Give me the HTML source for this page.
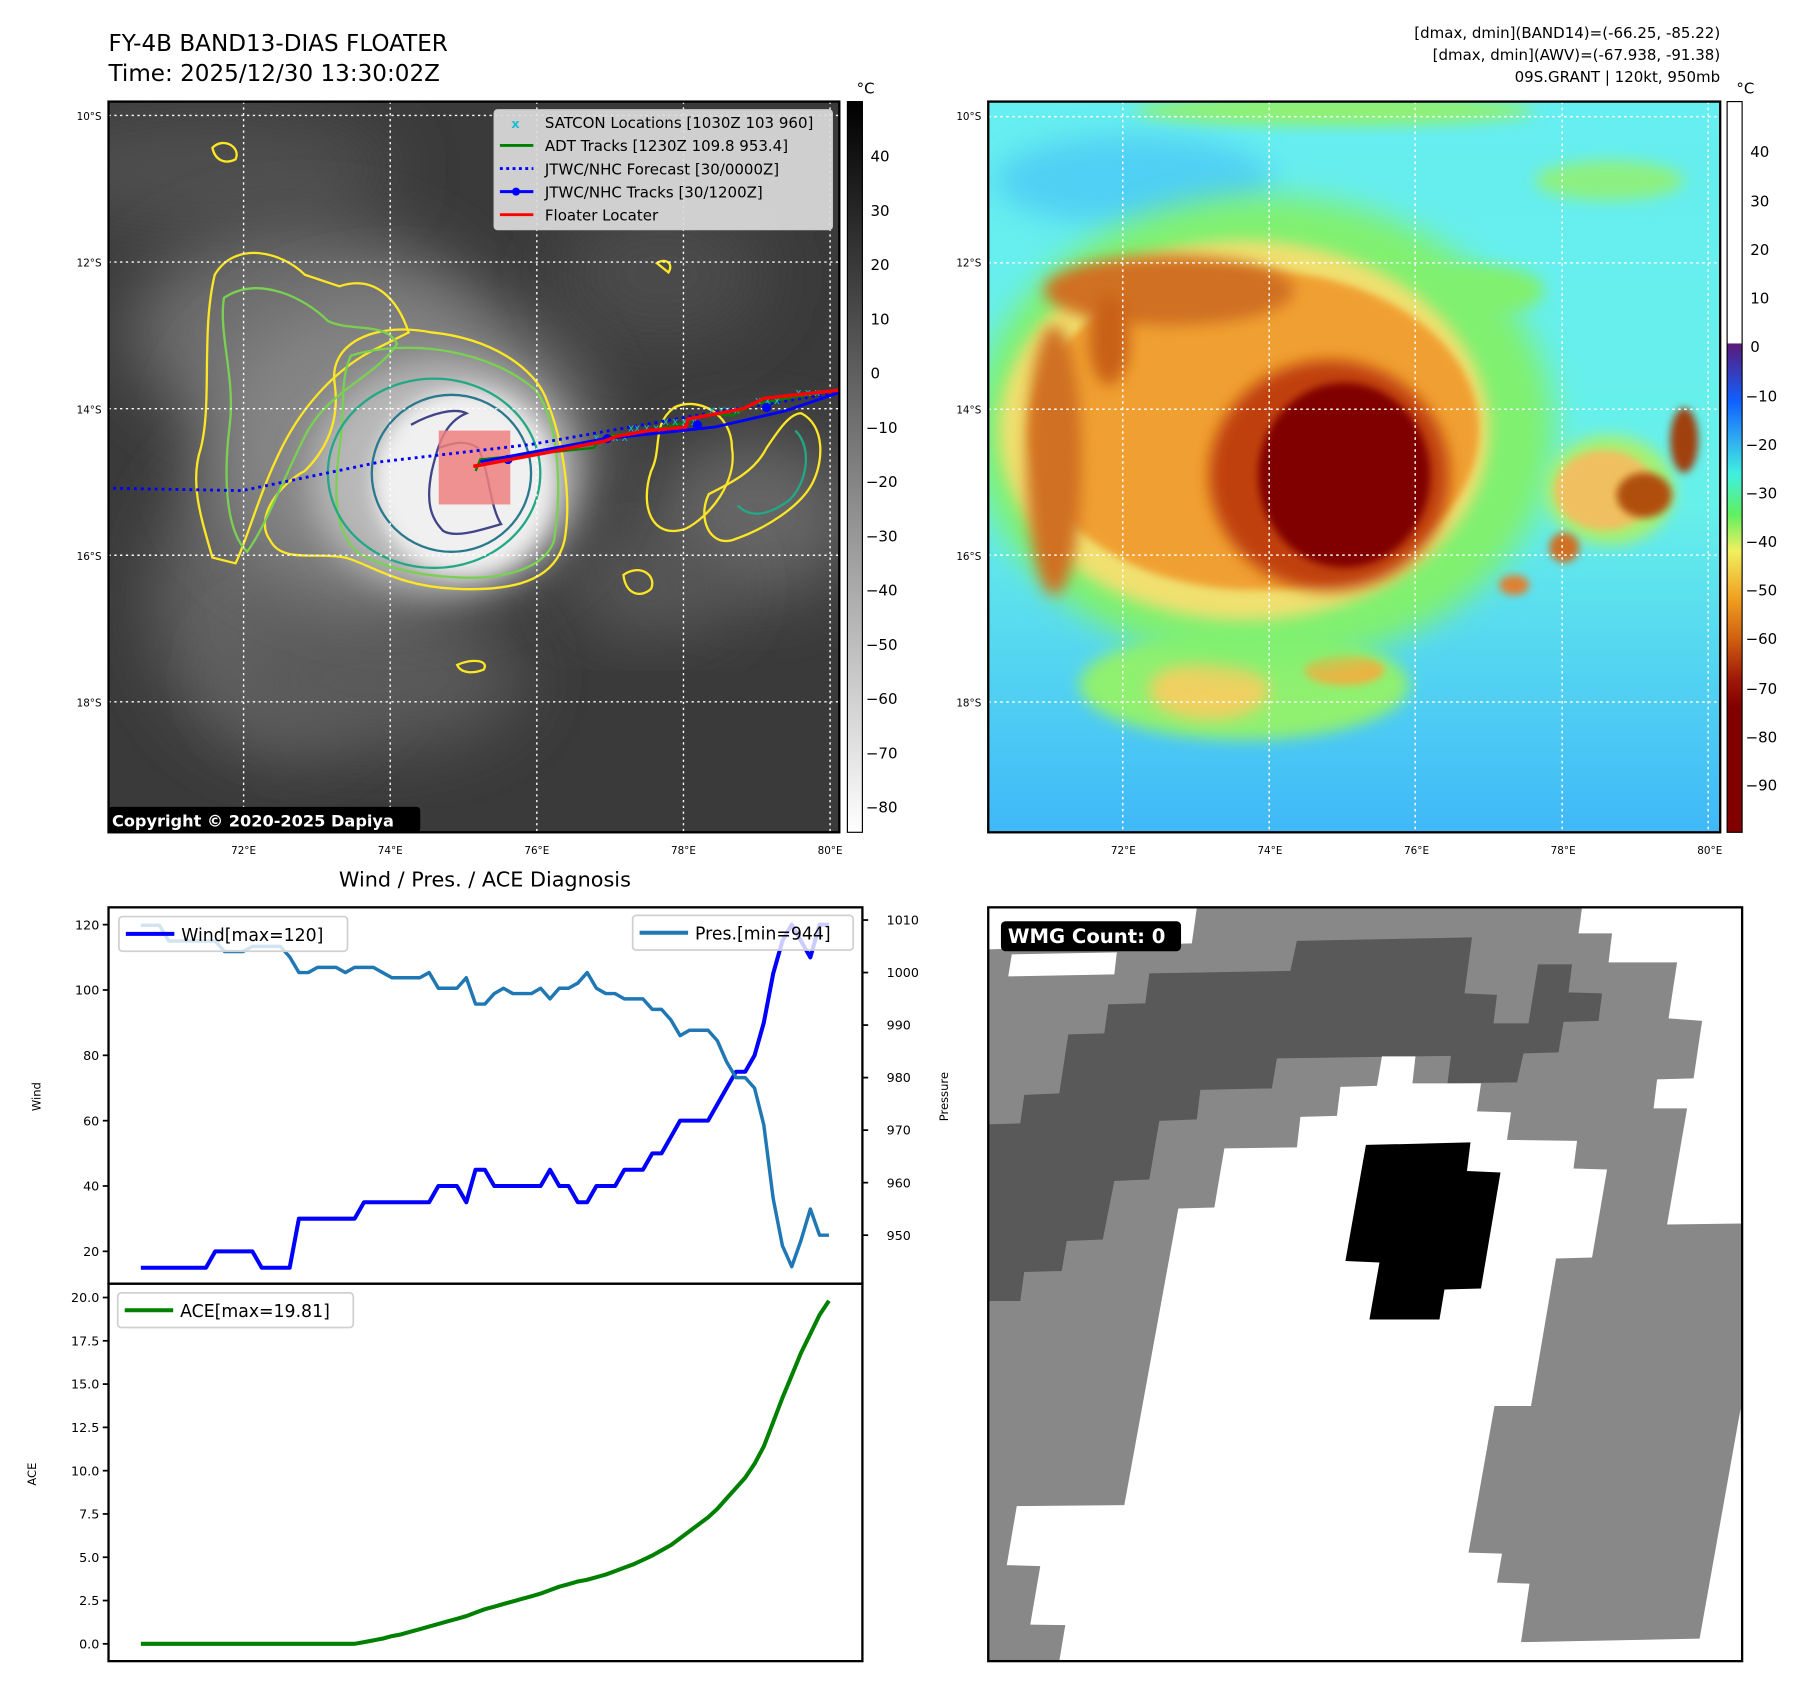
<!DOCTYPE html>
<html><head><meta charset="utf-8">
<style>
html,body{margin:0;padding:0;background:#fff;width:1801px;height:1690px;overflow:hidden}
svg text{font-family:"DejaVu Sans","Liberation Sans",sans-serif}
</style></head>
<body>
<svg id="page" width="1801" height="1690" viewBox="0 0 1560 1464" preserveAspectRatio="none" xmlns="http://www.w3.org/2000/svg">
<defs>
<filter id="b8" x="-30%" y="-30%" width="160%" height="160%"><feGaussianBlur stdDeviation="8"/></filter>
<filter id="b15" x="-30%" y="-30%" width="160%" height="160%"><feGaussianBlur stdDeviation="15"/></filter>
<filter id="b30" x="-40%" y="-40%" width="180%" height="180%"><feGaussianBlur stdDeviation="30"/></filter>
<linearGradient id="grayBar" x1="0" y1="0" x2="0" y2="1"><stop offset="0" stop-color="#000"/><stop offset="1" stop-color="#fff"/></linearGradient>
<linearGradient id="jetBar" x1="0" y1="0" x2="0" y2="1">
<stop offset="0" stop-color="#fff"/><stop offset="0.33" stop-color="#fff"/><stop offset="0.332" stop-color="#5a1a7a"/>
<stop offset="0.41" stop-color="#1060ff"/><stop offset="0.465" stop-color="#30b0f0"/><stop offset="0.51" stop-color="#40f0e0"/>
<stop offset="0.565" stop-color="#60f060"/><stop offset="0.615" stop-color="#f0f060"/><stop offset="0.68" stop-color="#f0a020"/>
<stop offset="0.735" stop-color="#d06010"/><stop offset="0.79" stop-color="#a01808"/><stop offset="0.83" stop-color="#800000"/><stop offset="1" stop-color="#800000"/>
</linearGradient>
<linearGradient id="seaBg" x1="0" y1="0" x2="0" y2="1"><stop offset="0" stop-color="#66eef0"/><stop offset="0.55" stop-color="#66f0ea"/><stop offset="1" stop-color="#40b8f8"/></linearGradient>
</defs>

<text x="94" y="44" font-size="20">FY-4B BAND13-DIAS FLOATER</text>
<text x="94" y="70" font-size="20">Time: 2025/12/30 13:30:02Z</text>
<g font-size="13" text-anchor="end">
<text x="1490" y="33">[dmax, dmin](BAND14)=(-66.25, -85.22)</text>
<text x="1490" y="52">[dmax, dmin](AWV)=(-67.938, -91.38)</text>
<text x="1490" y="71">09S.GRANT | 120kt, 950mb</text>
</g>

<svg x="94" y="88" width="633" height="633" viewBox="0 0 633 633">
<rect width="633" height="633" fill="#3a3a3a"/>
<ellipse cx="90" cy="60" rx="160" ry="50" fill="#505050" filter="url(#b30)"/>
<ellipse cx="480" cy="150" rx="90" ry="60" fill="#4c4c4c" filter="url(#b30)"/>
<ellipse cx="170" cy="200" rx="150" ry="90" fill="#6e6e6e" filter="url(#b30)"/>
<ellipse cx="150" cy="430" rx="110" ry="130" fill="#636363" filter="url(#b30)"/>
<ellipse cx="230" cy="500" rx="130" ry="60" fill="#5a5a5a" filter="url(#b30)"/>
<ellipse cx="560" cy="360" rx="90" ry="70" fill="#666" filter="url(#b30)"/>
<ellipse cx="470" cy="420" rx="70" ry="40" fill="#5a5a5a" filter="url(#b30)"/>
<ellipse cx="250" cy="300" rx="170" ry="130" fill="#858585" filter="url(#b30)"/>
<ellipse cx="290" cy="325" rx="115" ry="100" fill="#b8b8b8" filter="url(#b15)"/>
<ellipse cx="308" cy="330" rx="78" ry="80" fill="#f0f0f0" filter="url(#b8)"/>
<g fill="none" stroke-width="2">
<path d="M196 245 C190 210 230 190 280 200 C330 205 370 230 380 260 C392 290 402 340 395 380 C388 410 360 425 300 422 C250 420 225 400 205 395 C180 390 150 400 140 380 C125 360 150 330 170 320 C190 300 200 275 196 245Z" stroke="#fde725"/>
<path d="M92 150 C110 120 150 130 170 150 L200 160 C230 150 250 170 260 200 L230 215 C200 230 170 260 150 300 C130 340 120 380 110 400 L90 395 C80 360 70 330 80 300 C90 260 80 200 92 150Z" stroke="#fde725"/>
<path d="M100 170 C130 150 170 170 190 190 C210 200 240 190 250 210 C230 240 190 250 170 290 C150 330 135 370 120 390 C100 370 100 320 105 280 C110 240 95 200 100 170Z" stroke="#7ad151"/>
<path d="M210 220 C260 205 330 215 370 250 C392 280 392 340 386 380 C378 405 340 415 300 412 C260 410 230 400 215 390 C195 370 195 340 200 300 C205 270 200 240 210 220Z" stroke="#7ad151"/>
<ellipse cx="282" cy="322" rx="92" ry="82" stroke="#22a884"/>
<ellipse cx="297" cy="322" rx="69" ry="68" stroke="#2a788e"/>
<path d="M262 280 C280 270 300 265 310 270 C290 278 285 300 280 320 C275 345 278 360 290 372 C300 378 320 372 340 366 C330 350 330 320 320 300 C305 290 290 300 285 300" stroke="#414487"/>
<path d="M490 265 C510 255 540 270 540 300 C545 330 520 360 500 370 C470 380 460 350 470 320 C480 300 470 280 490 265Z" stroke="#fde725"/>
<path d="M600 270 C620 280 620 310 610 330 C600 350 570 370 540 380 C520 385 510 360 520 340 C540 330 560 320 570 300 C580 285 590 270 600 270Z" stroke="#fde725"/>
<path d="M595 285 C610 300 605 330 590 345 C570 360 555 360 545 350" stroke="#22a884"/>
<path d="M446 410 C460 400 475 410 470 422 C462 430 448 428 446 410Z" stroke="#fde725"/>
<path d="M302 488 C315 482 330 484 325 492 C315 496 305 495 302 488Z" stroke="#fde725"/>
<path d="M90 40 C100 30 115 40 110 50 C100 55 92 50 90 40Z M475 140 C482 135 490 140 485 148Z" stroke="#fde725"/>
</g>
<g stroke="#fff" stroke-width="1.2" stroke-dasharray="2,3">
<line x1="117" y1="0" x2="117" y2="633"/><line x1="244" y1="0" x2="244" y2="633"/><line x1="371" y1="0" x2="371" y2="633"/><line x1="498" y1="0" x2="498" y2="633"/><line x1="625" y1="0" x2="625" y2="633"/>
<line x1="0" y1="12" x2="633" y2="12"/><line x1="0" y1="139" x2="633" y2="139"/><line x1="0" y1="266" x2="633" y2="266"/><line x1="0" y1="393" x2="633" y2="393"/><line x1="0" y1="520" x2="633" y2="520"/>
</g>
<rect x="286" y="285" width="62" height="64" fill="#f08080" opacity="0.85"/>
<polyline points="4,335 116,337 236,312 366,297 520,270 633,252" fill="none" stroke="#0000ff" stroke-width="2.5" stroke-dasharray="2.5,3.5"/>
<polyline points="318,320 322,310 420,300 430,290 470,285 500,278 520,270 540,272 560,262 600,255 633,250" fill="none" stroke="#008000" stroke-width="2"/>
<g fill="#17becf" font-size="9">
<text x="420" y="294">x x x x</text><text x="450" y="286">xx x x</text><text x="480" y="280">x x x x</text><text x="520" y="270">x xx x</text><text x="560" y="262">x x x</text><text x="595" y="255">x x x</text>
</g>
<polyline points="322,312 430,292 525,282 586,268 633,252" fill="none" stroke="#0000ff" stroke-width="2.5"/>
<g fill="#0000ff"><circle cx="346" cy="310" r="4"/><circle cx="432" cy="292" r="4"/><circle cx="510" cy="280" r="4"/><circle cx="570" cy="265" r="4"/></g>
<polyline points="316,316 380,304 430,294 440,290 468,285 500,282 502,275 550,266 568,257 633,250" fill="none" stroke="#ff0000" stroke-width="3"/>
</svg>
<rect x="94" y="88" width="633" height="633" fill="none" stroke="#000" stroke-width="2"/>
<g>
<rect x="428" y="95" width="293" height="104" rx="3" fill="#dcdcdc" fill-opacity="0.92" stroke="#ccc"/>
<text x="443" y="111" fill="#17becf" font-size="11" font-weight="bold">x</text>
<line x1="433" y1="126" x2="462" y2="126" stroke="#008000" stroke-width="2.5"/>
<line x1="433" y1="146" x2="462" y2="146" stroke="#0000ff" stroke-width="2.5" stroke-dasharray="2.5,3"/>
<line x1="433" y1="166" x2="462" y2="166" stroke="#0000ff" stroke-width="2.5"/><circle cx="447" cy="166" r="3.5" fill="#0000ff"/>
<line x1="433" y1="186" x2="462" y2="186" stroke="#ff0000" stroke-width="2.5"/>
<g font-size="13">
<text x="472" y="111">SATCON Locations [1030Z 103 960]</text>
<text x="472" y="131">ADT Tracks [1230Z 109.8 953.4]</text>
<text x="472" y="151">JTWC/NHC Forecast [30/0000Z]</text>
<text x="472" y="171">JTWC/NHC Tracks [30/1200Z]</text>
<text x="472" y="191">Floater Locater</text>
</g>
</g>
<g>
<rect x="94" y="699" width="270" height="22" rx="3" fill="#000"/>
<text x="97" y="716" fill="#fff" font-size="14" font-weight="bold">Copyright © 2020-2025 Dapiya</text>
</g>
<g font-size="9" text-anchor="end">
<text x="88" y="104">10°S</text><text x="88" y="231">12°S</text><text x="88" y="358">14°S</text><text x="88" y="485">16°S</text><text x="88" y="612">18°S</text>
</g>
<g font-size="9" text-anchor="middle">
<text x="211" y="740">72°E</text><text x="338" y="740">74°E</text><text x="465" y="740">76°E</text><text x="592" y="740">78°E</text><text x="719" y="740">80°E</text>
</g>
<g>
<rect x="734" y="88" width="13" height="633" fill="url(#grayBar)" stroke="#000"/>
<text x="742" y="81" font-size="13">°C</text>
<g font-size="13"><text x="754" y="140">40</text><text x="754" y="187">30</text><text x="754" y="234">20</text><text x="754" y="281">10</text><text x="754" y="328">0</text><text x="750" y="375">−10</text><text x="750" y="422">−20</text><text x="750" y="469">−30</text><text x="750" y="516">−40</text><text x="750" y="563">−50</text><text x="750" y="610">−60</text><text x="750" y="657">−70</text><text x="750" y="704">−80</text></g>
</g>

<svg x="856" y="88" width="634" height="633" viewBox="8 42 1464 1463" preserveAspectRatio="none">
<rect x="8" y="42" width="1464" height="1463" fill="url(#seaBg)"/>
<ellipse cx="300" cy="200" rx="280" ry="90" fill="#50d0f4" filter="url(#b30)"/>
<ellipse cx="1000" cy="420" rx="120" ry="50" fill="#80f070" filter="url(#b15)"/>
<ellipse cx="1250" cy="200" rx="150" ry="40" fill="#8cf080" filter="url(#b15)"/>
<ellipse cx="700" cy="60" rx="400" ry="30" fill="#90f070" filter="url(#b15)"/>
<ellipse cx="520" cy="1210" rx="330" ry="110" fill="#90f070" filter="url(#b15)"/>
<ellipse cx="450" cy="1220" rx="120" ry="60" fill="#f0d060" filter="url(#b15)"/>
<ellipse cx="720" cy="1180" rx="80" ry="30" fill="#f0b040" filter="url(#b8)"/>
<ellipse cx="560" cy="700" rx="580" ry="470" fill="#80f070" filter="url(#b30)"/>
<ellipse cx="520" cy="700" rx="490" ry="380" fill="#f0e070" filter="url(#b15)"/>
<ellipse cx="540" cy="700" rx="450" ry="320" fill="#f0a030" filter="url(#b8)"/>
<ellipse cx="370" cy="420" rx="250" ry="70" fill="#d07020" filter="url(#b15)"/>
<ellipse cx="140" cy="760" rx="55" ry="270" fill="#d07020" filter="url(#b15)"/>
<ellipse cx="250" cy="520" rx="40" ry="90" fill="#c86018" filter="url(#b15)"/>
<ellipse cx="690" cy="790" rx="240" ry="230" fill="#c04010" filter="url(#b15)"/>
<ellipse cx="720" cy="790" rx="172" ry="185" fill="#800000" filter="url(#b8)"/>
<ellipse cx="1250" cy="820" rx="130" ry="110" fill="#a8f070" filter="url(#b15)"/>
<ellipse cx="1240" cy="820" rx="100" ry="80" fill="#f0c060" filter="url(#b8)"/>
<ellipse cx="1320" cy="830" rx="55" ry="45" fill="#b05010" filter="url(#b8)"/>
<ellipse cx="1400" cy="720" rx="28" ry="65" fill="#a04010" filter="url(#b8)"/>
<ellipse cx="1160" cy="935" rx="30" ry="30" fill="#d07020" filter="url(#b8)"/>
<ellipse cx="1060" cy="1010" rx="30" ry="20" fill="#e08030" filter="url(#b8)"/>
<g stroke="#fff" stroke-width="3" stroke-dasharray="5,7">
<line x1="277" y1="42" x2="277" y2="1505"/><line x1="570" y1="42" x2="570" y2="1505"/><line x1="862" y1="42" x2="862" y2="1505"/><line x1="1156" y1="42" x2="1156" y2="1505"/><line x1="1448" y1="42" x2="1448" y2="1505"/>
<line x1="8" y1="72" x2="1472" y2="72"/><line x1="8" y1="365" x2="1472" y2="365"/><line x1="8" y1="658" x2="1472" y2="658"/><line x1="8" y1="950" x2="1472" y2="950"/><line x1="8" y1="1244" x2="1472" y2="1244"/>
</g>
</svg>
<rect x="856" y="88" width="634" height="633" fill="none" stroke="#000" stroke-width="2"/>
<g font-size="9" text-anchor="end">
<text x="850" y="104">10°S</text><text x="850" y="231">12°S</text><text x="850" y="358">14°S</text><text x="850" y="485">16°S</text><text x="850" y="612">18°S</text>
</g>
<g font-size="9" text-anchor="middle">
<text x="973" y="740">72°E</text><text x="1100" y="740">74°E</text><text x="1227" y="740">76°E</text><text x="1354" y="740">78°E</text><text x="1481" y="740">80°E</text>
</g>
<g>
<rect x="1496" y="88" width="13" height="633" fill="url(#jetBar)" stroke="#000"/>
<text x="1504" y="81" font-size="13">°C</text>
<g font-size="13"><text x="1516" y="136">40</text><text x="1516" y="179">30</text><text x="1516" y="221">20</text><text x="1516" y="263">10</text><text x="1516" y="305">0</text><text x="1512" y="348">−10</text><text x="1512" y="390">−20</text><text x="1512" y="432">−30</text><text x="1512" y="474">−40</text><text x="1512" y="516">−50</text><text x="1512" y="558">−60</text><text x="1512" y="601">−70</text><text x="1512" y="643">−80</text><text x="1512" y="685">−90</text></g>
</g>

<svg x="856" y="786" width="653" height="653" viewBox="8 28 1507 1507" preserveAspectRatio="none">
<rect x="8" y="28" width="1507" height="1507" fill="#888"/>
<polygon fill="#fff" points="1195,28 1515,28 1515,660 1365,662 1405,430 1338,430 1345,372 1418,370 1435,255 1368,250 1385,138 1248,138 1255,80 1188,80"/>
<polygon fill="#fff" points="8,28 425,28 415,100 8,112"/>
<polygon fill="#fff" points="55,122 265,118 260,162 48,166"/>
<polygon fill="#595959" points="8,462 72,460 80,403 150,400 168,282 240,280 248,222 322,220 330,160 612,155 625,95 975,88 960,200 1025,203 1018,260 1088,260 1107,142 1175,142 1168,198 1235,200 1228,255 1158,257 1148,318 1078,320 1065,378 926,380 933,325 585,330 575,390 432,393 425,452 350,455 330,572 260,575 237,692 165,695 155,755 80,757 72,815 8,815"/>
<polygon fill="#fff" points="795,326 862,326 856,380 993,380 985,436 1053,438 1045,493 1185,495 1178,550 1245,552 1215,728 1143,730 1093,1025 1020,1025 968,1318 1035,1320 1025,1378 1090,1380 1073,1497 1430,1490 1512,1030 1515,1535 150,1535 162,1463 92,1462 112,1345 45,1343 65,1225 280,1223 388,630 460,628 480,510 625,508 632,447 705,445 712,387 785,385"/>
<polygon fill="#000" points="763,503 972,498 965,555 1032,558 993,790 920,792 910,852 770,852 790,738 722,735"/>
</svg>
<rect x="856" y="786" width="653" height="653" fill="none" stroke="#000" stroke-width="2"/>
<g>
<rect x="867" y="798" width="156" height="26" rx="4" fill="#000"/>
<text x="873" y="817" fill="#fff" font-size="17" font-weight="bold">WMG Count: 0</text>
</g>

<text x="420" y="768" font-size="18" text-anchor="middle">Wind / Pres. / ACE Diagnosis</text>
<g id="chart"></g>
</svg>

<script>
const windValues=[15,15,15,15,15,15,15,15,20,20,20,20,20,15,15,15,15,30,30,30,30,30,30,30,35,35,35,35,35,35,35,35,40,40,40,35,45,45,40,40,40,40,40,40,45,40,40,35,35,40,40,40,45,45,45,50,50,55,60,60,60,60,65,70,75,75,80,90,105,115,120,115,110,120,120];
const presValues=[1009,1009,1009,1006,1006,1006,1006,1006,1006,1004,1004,1004,1005,1005,1005,1005,1003,1000,1000,1001,1001,1001,1000,1001,1001,1001,1000,999,999,999,999,1000,997,997,997,999,994,994,996,997,996,996,996,997,995,997,997,998,1000,997,996,996,995,995,995,993,993,991,988,989,989,989,987,983,980,980,978,971,957,948,944,949,955,950,950];
const aceValues=[0,0,0,0,0,0,0,0,0,0,0,0,0,0,0,0,0,0,0,0,0,0,0,0,0.1,0.2,0.3,0.45,0.55,0.7,0.85,1.0,1.15,1.3,1.45,1.6,1.8,2.0,2.15,2.3,2.45,2.6,2.75,2.9,3.1,3.3,3.45,3.6,3.7,3.85,4.0,4.2,4.4,4.6,4.85,5.1,5.4,5.7,6.1,6.5,6.9,7.3,7.8,8.4,9.0,9.6,10.4,11.4,12.8,14.2,15.5,16.8,17.9,19.0,19.81];
const windTicks=[20,40,60,80,100,120];
const presTicks=[950,960,970,980,990,1000,1010];
const aceTicks=[0,2.5,5,7.5,10,12.5,15,17.5,20];

const NS='http://www.w3.org/2000/svg';
const chart=document.getElementById('chart');
function xOf(i){return 122+i*(596/(windValues.length-1));}
function yWind(v){return 801+(120-v)*2.83;}
function yPres(p){return 797+(1010-p)*4.55;}
function yAce(v){return 1424-v*15;}
function mk(tag,attrs,parent){const e=document.createElementNS(NS,tag);for(const k in attrs)e.setAttribute(k,attrs[k]);(parent||chart).appendChild(e);return e;}
function pathFrom(vals,yf){return vals.map((v,i)=>(i?'L':'M')+xOf(i).toFixed(1)+' '+yf(v).toFixed(1)).join(' ');}

const frame1=mk('rect',{x:94,y:786,width:653,height:326,fill:'none',stroke:'#000','stroke-width':2});


const frame2=mk('rect',{x:94,y:1112,width:653,height:327,fill:'none',stroke:'#000','stroke-width':2});



windTicks.forEach(v=>{
  const y=yWind(v);
  const t=mk('line',{x1:89,y1:y,x2:94,y2:y,stroke:'#000','stroke-width':1.5});
  
  
  const l=mk('text',{x:86,y:y+4,'font-size':11,'text-anchor':'end'});
  l.textContent=v;
  
  
});
presTicks.forEach(v=>{
  const y=yPres(v);
  const t=mk('line',{x1:747,y1:y,x2:752,y2:y,stroke:'#000','stroke-width':1.5});
  
  
  const l=mk('text',{x:768,y:y+4,'font-size':11});
  l.textContent=v;
  
  
});
aceTicks.forEach(v=>{
  const y=yAce(v);
  const t=mk('line',{x1:89,y1:y,x2:94,y2:y,stroke:'#000','stroke-width':1.5});
  
  
  const l=mk('text',{x:86,y:y+4,'font-size':11,'text-anchor':'end'});
  l.textContent=v.toFixed(1);
  
  
});

const yl1=mk('text',{x:0,y:0,'font-size':10,'text-anchor':'middle',transform:'translate(35,950) rotate(-90)'});
yl1.textContent='Wind';


const yl2=mk('text',{x:0,y:0,'font-size':10,'text-anchor':'middle',transform:'translate(821,950) rotate(-90)'});
yl2.textContent='Pressure';


const yl3=mk('text',{x:0,y:0,'font-size':10,'text-anchor':'middle',transform:'translate(31,1277) rotate(-90)'});
yl3.textContent='ACE';



const windLine=mk('path',{d:pathFrom(windValues,yWind),fill:'none',stroke:'#0000ff','stroke-width':3.5,'stroke-linejoin':'round'});


const presLine=mk('path',{d:pathFrom(presValues,yPres),fill:'none',stroke:'#1f77b4','stroke-width':3,'stroke-linejoin':'round'});


const aceLine=mk('path',{d:pathFrom(aceValues,yAce),fill:'none',stroke:'#008000','stroke-width':3.5,'stroke-linejoin':'round'});



function legend(name,x,y,w,color,label){
  const g=mk('g',{});
  
  
  mk('rect',{x:x,y:y,width:w,height:30,rx:3,fill:'#fff','fill-opacity':0.8,stroke:'#d0d0d0','stroke-width':1.5},g);
  mk('line',{x1:x+6,y1:y+15,x2:x+48,y2:y+15,stroke:color,'stroke-width':3.5},g);
  const t=mk('text',{x:x+54,y:y+21,'font-size':15},g);
  t.textContent=label;
}
legend('wind-legend',103,794,198,'#0000ff','Wind[max='+Math.max(...windValues)+']');
legend('pressure-legend',548,793,191,'#1f77b4','Pres.[min='+Math.min(...presValues)+']');
legend('ace-legend',102,1120,204,'#008000','ACE[max='+Math.max(...aceValues).toFixed(2)+']');
</script>
</body></html>
